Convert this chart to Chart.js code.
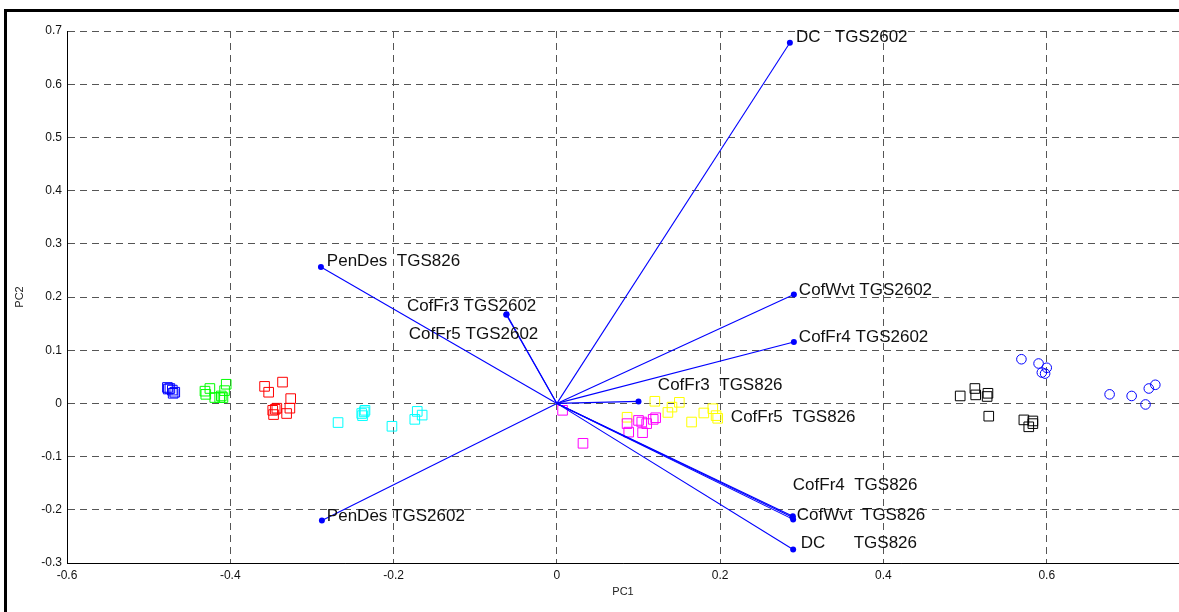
<!DOCTYPE html>
<html>
<head>
<meta charset="utf-8">
<title>PCA biplot</title>
<script src="https://cdn.jsdelivr.net/npm/chart.js@4.4.1/dist/chart.umd.min.js"></script>
<style>
  html, body { margin: 0; padding: 0; background: #fff; }
  #wrap { width: 1179px; height: 612px; }
</style>
</head>
<body>
<div id="wrap"><canvas id="biplot" width="1179" height="612"></canvas></div>
<script>
// tick values
const xTicks = [-0.6, -0.4, -0.2, 0, 0.2, 0.4, 0.6];
const yTicks = [-0.3, -0.2, -0.1, 0, 0.1, 0.2, 0.3, 0.4, 0.5, 0.6, 0.7];

// scores (PC1, PC2) per sample group
const blueSquares = [[-0.477, 0.030], [-0.474, 0.028], [-0.471, 0.025], [-0.468, 0.021], [-0.476, 0.027], [-0.470, 0.019]];
const greenSquares = [[-0.431, 0.023], [-0.425, 0.028], [-0.430, 0.017], [-0.419, 0.011], [-0.413, 0.011],
                      [-0.409, 0.011], [-0.407, 0.024], [-0.405, 0.036], [-0.411, 0.014]];
const redSquares = [[-0.358, 0.032], [-0.336, 0.040], [-0.353, 0.021], [-0.326, 0.009], [-0.343, -0.009],
                    [-0.348, -0.013], [-0.347, -0.021], [-0.331, -0.019], [-0.327, -0.009], [-0.345, -0.011]];
const cyanSquares = [[-0.268, -0.036], [-0.239, -0.019], [-0.235, -0.013], [-0.238, -0.023], [-0.236, -0.016],
                     [-0.202, -0.043], [-0.171, -0.015], [-0.174, -0.030], [-0.165, -0.022]];
const magentaSquares = [[0.007, -0.013], [0.032, -0.075], [0.086, -0.038], [0.088, -0.054], [0.100, -0.032],
                        [0.105, -0.055], [0.110, -0.038], [0.121, -0.027], [0.104, -0.035], [0.118, -0.030]];
const yellowSquares = [[0.086, -0.026], [0.120, 0.004], [0.136, -0.017], [0.141, -0.007], [0.150, 0.002],
                       [0.165, -0.035], [0.180, -0.018], [0.191, -0.010], [0.195, -0.023], [0.197, -0.028]];
const blackSquares = [[0.494, 0.014], [0.512, 0.028], [0.513, 0.016], [0.528, 0.019], [0.527, 0.013],
                      [0.529, -0.024], [0.572, -0.031], [0.583, -0.033], [0.578, -0.044], [0.583, -0.038]];
const blueCircles = [[0.569, 0.083], [0.590, 0.075], [0.600, 0.067], [0.594, 0.058], [0.598, 0.056],
                     [0.677, 0.017], [0.704, 0.014], [0.721, -0.002], [0.725, 0.028], [0.733, 0.035]];

// loadings (sensor variables)
const loadNames = ['DC   TGS2602', 'PenDes  TGS826', 'CofFr3 TGS2602', 'CofFr5 TGS2602', 'CofWvt TGS2602',
                   'CofFr4 TGS2602', 'CofFr3  TGS826', 'CofFr5  TGS826', 'CofFr4  TGS826', 'CofWvt  TGS826',
                   'DC      TGS826', 'PenDes TGS2602'];
const loadX = [0.2854, -0.289, -0.0616, -0.0620, 0.2903, 0.2903, 0.100, 0.2885, 0.289, 0.2894, 0.2894, -0.2878];
const loadY = [0.678, 0.2565, 0.1675, 0.1665, 0.2045, 0.1154, 0.0038, -0.214, -0.212, -0.218, -0.2747, -0.2202];
// where each name was written (data units)
const labelX = [0.293, -0.2817, -0.1837, -0.1813, 0.2964, 0.2964, 0.1237, 0.2131, 0.2890, 0.2939, 0.2988, -0.2817];
const labelY = [0.689, 0.267, 0.1816, 0.1308, 0.2126, 0.1251, 0.0339, -0.0254, -0.1543, -0.2098, -0.2634, -0.2126];

const toPts = arr => arr.map(p => ({ x: p[0], y: p[1] }));

function scoreSet(points, color, style, radius) {
    return {
        data: toPts(points),
        pointStyle: style,
        pointRadius: radius,
        pointBorderColor: color,
        pointBackgroundColor: 'rgba(0,0,0,0)',
        pointBorderWidth: 1,
        showLine: false
    };
}

const datasets = [];
loadNames.forEach((name, i) => {
    datasets.push({
        label: name,
        data: [{ x: 0, y: 0 }, { x: loadX[i], y: loadY[i] }],
        showLine: true,
        borderColor: '#0000ff',
        borderWidth: 1.1,
        pointRadius: [0, 3],
        pointBackgroundColor: '#0000ff',
        pointBorderColor: '#0000ff',
        pointBorderWidth: 0
    });
});
datasets.push(scoreSet(blueSquares, '#0000ff', 'rect', 6.8));
datasets.push(scoreSet(greenSquares, '#00ff00', 'rect', 6.8));
datasets.push(scoreSet(redSquares, '#ff0000', 'rect', 6.8));
datasets.push(scoreSet(cyanSquares, '#00ffff', 'rect', 6.8));
datasets.push(scoreSet(magentaSquares, '#ff00ff', 'rect', 6.8));
datasets.push(scoreSet(yellowSquares, '#ffff00', 'rect', 6.8));
datasets.push(scoreSet(blackSquares, '#000000', 'rect', 6.8));
datasets.push(scoreSet(blueCircles, '#0000ff', 'circle', 4.8));

// variable names + figure frame
const biplotText = {
    id: 'biplotText',
    afterDatasetsDraw(chart) {
        const { ctx, scales: { x, y } } = chart;
        ctx.save();
        ctx.font = '17px "Liberation Sans", Arial, sans-serif';
        ctx.fillStyle = '#111';
        ctx.textAlign = 'left';
        ctx.textBaseline = 'middle';
        loadNames.forEach((name, i) => {
            ctx.fillText(name, x.getPixelForValue(labelX[i]), y.getPixelForValue(labelY[i]));
        });
        ctx.strokeStyle = '#000';
        ctx.lineWidth = 3;
        ctx.beginPath();
        ctx.moveTo(5.5, 612);
        ctx.lineTo(5.5, 10.5);
        ctx.lineTo(1179, 10.5);
        ctx.stroke();
        ctx.restore();
    }
};

const tickFont = { family: '"Liberation Sans", Arial, sans-serif', size: 12 };
const gridOpts = { color: '#555', lineWidth: 1, drawTicks: false };

new Chart(document.getElementById('biplot').getContext('2d'), {
    type: 'scatter',
    data: { datasets: datasets },
    options: {
        responsive: false,
        animation: false,
        layout: { autoPadding: false, padding: { top: 31, right: 0, left: 0, bottom: 0 } },
        scales: {
            x: {
                type: 'linear',
                min: -0.6,
                max: 0.762,
                afterBuildTicks: s => { s.ticks = xTicks.map(v => ({ value: v })); },
                afterFit: s => { s.height = 49; s.paddingLeft = 0; s.paddingRight = 0; },
                grid: gridOpts,
                border: { display: true, color: '#000', width: 1, dash: [7, 5] },
                ticks: { font: tickFont, color: '#111', padding: 5, callback: v => String(v) },
                title: {
                    display: true,
                    text: 'PC1',
                    font: { family: '"Liberation Sans", Arial, sans-serif', size: 11 },
                    color: '#222',
                    padding: { top: 0, bottom: 13 }
                }
            },
            y: {
                type: 'linear',
                min: -0.3,
                max: 0.7,
                afterBuildTicks: s => { s.ticks = yTicks.map(v => ({ value: v })); },
                afterFit: s => { s.width = 67; },
                grid: gridOpts,
                border: { display: true, color: '#000', width: 1, dash: [7, 5] },
                ticks: { font: tickFont, color: '#111', padding: 5, callback: v => String(v) },
                title: {
                    display: true,
                    text: 'PC2',
                    font: { family: '"Liberation Sans", Arial, sans-serif', size: 11 },
                    color: '#222',
                    padding: { top: 13, bottom: 0 }
                }
            }
        },
        plugins: {
            legend: { display: false },
            tooltip: { enabled: false }
        }
    },
    plugins: [biplotText]
});
</script>
</body>
</html>
